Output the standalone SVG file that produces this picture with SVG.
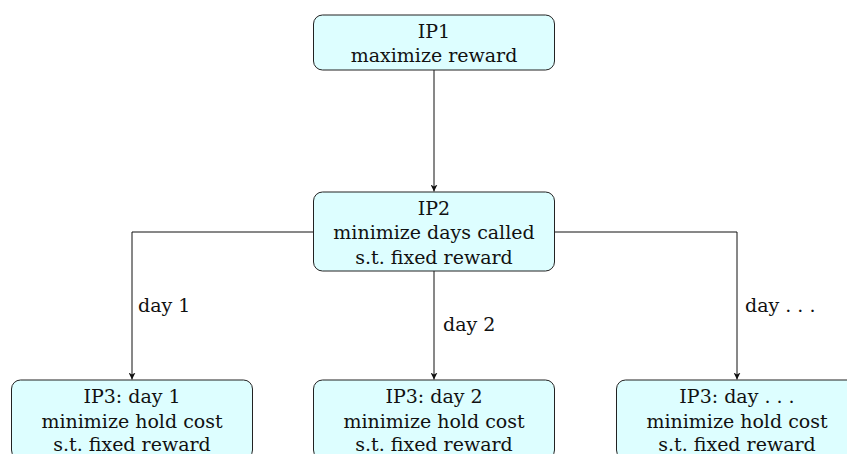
<svg xmlns="http://www.w3.org/2000/svg" width="847" height="454" viewBox="0 0 847 454">
<style>
.box{fill:#ddfeff;stroke:#222;stroke-width:1}
text{font-family:"DejaVu Serif","Liberation Serif",serif;font-size:19px;fill:#111}
.c{text-anchor:middle}
.ln{fill:none;stroke:#111;stroke-width:1}
</style>
<defs>
<marker id="ah" viewBox="0 0 10 10" refX="10" refY="5" markerWidth="7" markerHeight="7" markerUnits="userSpaceOnUse" orient="auto">
<path d="M0,0 L10,5 L0,10 L3,5 Z" fill="#111"/>
</marker>
</defs>
<g id="connectors">
<line class="ln" x1="434" y1="70" x2="434" y2="191.5" marker-end="url(#ah)"/>
<polyline class="ln" points="313,232 132,232 132,379.5" marker-end="url(#ah)"/>
<line class="ln" x1="434" y1="271" x2="434" y2="379.5" marker-end="url(#ah)"/>
<polyline class="ln" points="555,232 737,232 737,379.5" marker-end="url(#ah)"/>
<text x="138" y="312">day 1</text>
<text x="443" y="331">day 2</text>
<text x="745" y="312">day . . .</text>
</g>
<g id="ip1">
<rect class="box" x="313.5" y="15" width="241" height="55" rx="9"/>
<text class="c" x="434" y="38">IP1</text>
<text class="c" x="434" y="62">maximize reward</text>
</g>
<g id="ip2">
<rect class="box" x="313.5" y="192" width="241" height="79" rx="9"/>
<text class="c" x="434" y="214.5">IP2</text>
<text class="c" x="434" y="239">minimize days called</text>
<text class="c" x="434" y="263.5">s.t. fixed reward</text>
</g>
<g id="ip3-day1">
<rect class="box" x="11.5" y="380" width="241" height="79" rx="9"/>
<text class="c" x="132" y="403">IP3: day 1</text>
<text class="c" x="132" y="427.5">minimize hold cost</text>
<text class="c" x="132" y="451">s.t. fixed reward</text>
</g>
<g id="ip3-day2">
<rect class="box" x="313.5" y="380" width="241" height="79" rx="9"/>
<text class="c" x="434" y="403">IP3: day 2</text>
<text class="c" x="434" y="427.5">minimize hold cost</text>
<text class="c" x="434" y="451">s.t. fixed reward</text>
</g>
<g id="ip3-dayn">
<rect class="box" x="616.5" y="380" width="241" height="79" rx="9"/>
<text class="c" x="737" y="403">IP3: day . . .</text>
<text class="c" x="737" y="427.5">minimize hold cost</text>
<text class="c" x="737" y="451">s.t. fixed reward</text>
</g>
</svg>
